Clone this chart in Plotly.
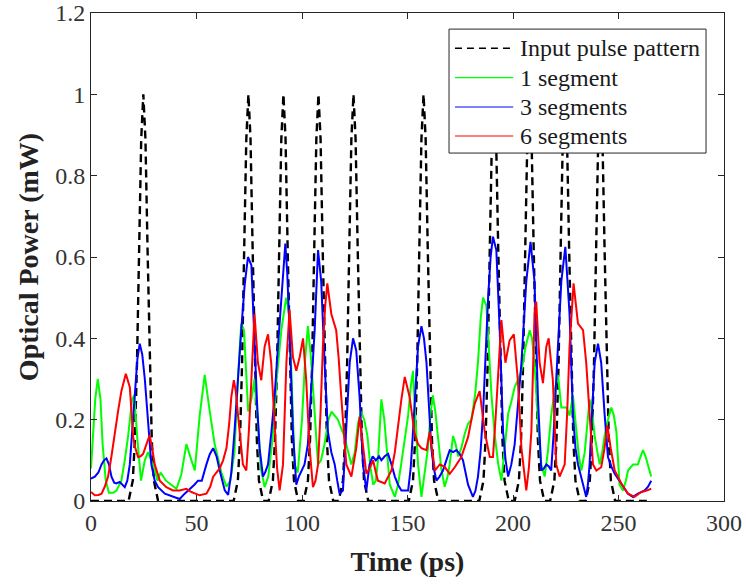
import plotly.graph_objects as go

# ---------------- data ----------------
input_t = [0, 17.8, 19.8, 20.8, 21.8, 22.8, 23.8, 24.8, 25.8, 26.8, 27.8, 28.8, 29.8, 31.8,
           67.6, 69.6, 70.6, 71.6, 72.6, 73.6, 74.6, 75.6, 76.6, 77.6, 78.6, 79.6, 81.6,
           84.2, 86.2, 87.2, 88.2, 89.2, 90.2, 91.2, 92.2, 93.2, 94.2, 95.2, 96.2, 98.2,
           100.8, 102.8, 103.8, 104.8, 105.8, 106.8, 107.8, 108.8, 109.8, 110.8, 111.8, 112.8, 114.8,
           117.4, 119.4, 120.4, 121.4, 122.4, 123.4, 124.4, 125.4, 126.4, 127.4, 128.4, 129.4, 131.4,
           150.6, 152.6, 153.6, 154.6, 155.6, 156.6, 157.6, 158.6, 159.6, 160.6, 161.6, 162.6, 164.6,
           184.0, 186.0, 187.0, 188.0, 189.0, 190.0, 191.0, 192.0, 193.0, 194.0, 195.0, 196.0, 198.0,
           200.8, 202.8, 203.8, 204.8, 205.8, 206.8, 207.8, 208.8, 209.8, 210.8, 211.8, 212.8, 214.8,
           217.6, 219.6, 220.6, 221.6, 222.6, 223.6, 224.6, 225.6, 226.6, 227.6, 228.6, 229.6, 231.6,
           234.4, 236.4, 237.4, 238.4, 239.4, 240.4, 241.4, 242.4, 243.4, 244.4, 245.4, 246.4, 248.4,
           265]
input_p = [0, 0, 0.05, 0.15, 0.34, 0.62, 0.89, 1.0, 0.89, 0.62, 0.34, 0.15, 0.05, 0,
           0, 0.05, 0.15, 0.34, 0.62, 0.89, 1.0, 0.89, 0.62, 0.34, 0.15, 0.05, 0,
           0, 0.05, 0.15, 0.34, 0.62, 0.89, 1.0, 0.89, 0.62, 0.34, 0.15, 0.05, 0,
           0, 0.05, 0.15, 0.34, 0.62, 0.89, 1.0, 0.89, 0.62, 0.34, 0.15, 0.05, 0,
           0, 0.05, 0.15, 0.34, 0.62, 0.89, 1.0, 0.89, 0.62, 0.34, 0.15, 0.05, 0,
           0, 0.05, 0.15, 0.34, 0.62, 0.89, 1.0, 0.89, 0.62, 0.34, 0.15, 0.05, 0,
           0, 0.05, 0.15, 0.34, 0.62, 0.89, 1.0, 0.89, 0.62, 0.34, 0.15, 0.05, 0,
           0, 0.05, 0.15, 0.34, 0.62, 0.89, 1.0, 0.89, 0.62, 0.34, 0.15, 0.05, 0,
           0, 0.05, 0.15, 0.34, 0.62, 0.89, 1.0, 0.89, 0.62, 0.34, 0.15, 0.05, 0,
           0, 0.05, 0.15, 0.34, 0.62, 0.89, 1.0, 0.89, 0.62, 0.34, 0.15, 0.05, 0,
           0]

seg1_t = [0, 1, 2, 3.2, 4.5, 5.5, 7, 8.5, 10.5, 12, 14.4, 16, 17.6, 19.5, 20.5, 22, 23.7, 25.5, 27,
          28.5, 30, 31.5, 33, 35.5, 38, 40.5, 42.8, 45.2, 47.6, 49.2, 51.5, 53.9, 56.3, 58.6, 61.8,
          64.2, 66, 68, 69.6, 71.2, 72.5, 73.5, 74.5, 76, 77.5, 79, 80.5, 82.3, 84, 86, 88, 90.2,
          92.5, 94, 95, 96.5, 98, 100, 101.5, 102.8, 104.3, 106, 107.6, 109, 110.7, 112.5, 114,
          115.5, 117, 120, 122, 123.4, 125, 126.5, 128, 129.5, 131, 132.5, 133.8, 135, 136, 137.6,
          139, 140, 141.6, 144, 145.5, 147, 148.5, 150.3, 151.5, 152.6, 153.8, 155, 156.6, 158,
          159.7, 161, 162, 163.2, 164.5, 166, 167.6, 169, 170, 171.6, 172.8, 174, 175.5, 177.1,
          178.7, 180.3, 182, 183.4, 184.7, 185.8, 187.4, 188.6, 189.8, 191.4, 193, 194.5, 196,
          197.7, 199, 200.8, 202.5, 204, 206, 207.9, 209, 210.2, 211.8, 213.4, 215, 216.5, 218.1,
          219.7, 221.3, 222.9, 225.3, 226.8, 228.4, 230, 231.2, 232.4, 234, 234.7, 236.3, 237.5,
          238.7, 240, 241.1, 242.3, 243.4, 245, 246.6, 247.8, 249, 250.5, 252.1, 253.5, 254.5,
          256.9, 259.2, 260.5, 261.6, 262.8, 264, 265.5]
seg1_p = [0.08, 0.16, 0.25, 0.30, 0.25, 0.14, 0.05, 0.02, 0.02, 0.025, 0.05, 0.10, 0.16, 0.25, 0.26,
          0.15, 0.05, 0.10, 0.12, 0.10, 0.08, 0.05, 0.07, 0.05, 0.04, 0.03, 0.065, 0.14, 0.10,
          0.075, 0.21, 0.31, 0.22, 0.14, 0.07, 0.035, 0.05, 0.12, 0.30, 0.436, 0.42, 0.30, 0.22,
          0.25, 0.30, 0.20, 0.08, 0.034, 0.06, 0.15, 0.30, 0.42, 0.50, 0.46, 0.30, 0.09, 0.07,
          0.20, 0.35, 0.43, 0.35, 0.21, 0.09, 0.10, 0.14, 0.20, 0.22, 0.21, 0.20, 0.16, 0.12,
          0.09, 0.12, 0.19, 0.22, 0.20, 0.16, 0.08, 0.04, 0.05, 0.10, 0.25, 0.20, 0.13, 0.04,
          0.01, 0.04, 0.09, 0.15, 0.21, 0.28, 0.32, 0.20, 0.09, 0.01, 0.06, 0.13, 0.22, 0.26,
          0.22, 0.16, 0.08, 0.035, 0.06, 0.09, 0.16, 0.14, 0.11, 0.13, 0.165, 0.19, 0.20, 0.26,
          0.34, 0.45, 0.50, 0.48, 0.38, 0.26, 0.16, 0.09, 0.05, 0.12, 0.215, 0.24, 0.28, 0.30,
          0.32, 0.38, 0.42, 0.40, 0.34, 0.20, 0.09, 0.06, 0.12, 0.21, 0.27, 0.31, 0.23, 0.23,
          0.21, 0.26, 0.17, 0.11, 0.075, 0.12, 0.16, 0.25, 0.22, 0.16, 0.12, 0.09, 0.12, 0.16,
          0.20, 0.23, 0.21, 0.17, 0.04, 0.026, 0.05, 0.075, 0.09, 0.09, 0.11, 0.125, 0.11, 0.09,
          0.06]

seg3_t = [0, 1.8, 3.5, 5, 6.2, 7.3, 8.5, 9.7, 11, 12, 13.6, 15, 16, 17.2, 18.4, 19.5, 20.7, 22,
          23.1, 24.3, 25.5, 27, 28.6, 30.2, 31.8, 35, 37.5, 39.7, 42, 44.4, 46, 47.6, 49, 50.7,
          52.5, 54.7, 56.3, 57.9, 59.5, 61, 62.3, 63.4, 65, 66.5, 68, 69.6, 71.2, 72.8, 74.4, 76,
          77.5, 78.7, 79.9, 81.5, 82.5, 83.9, 85.5, 87, 88.6, 90.2, 91.2, 92.1, 93, 94.1, 95.7,
          97.3, 98.5, 99.7, 101.2, 102.8, 104.4, 106, 107.6, 109.1, 110.7, 112.3, 113.9, 115.5,
          116.7, 117.8, 119.4, 121, 122.6, 124.2, 125.7, 127.3, 128.9, 130.5, 132, 133.5, 135,
          136.5, 137.6, 139.2, 140.8, 142.4, 144, 145.5, 147.1, 150.3, 151.5, 152.6, 153.8, 155,
          156.6, 157.8, 159, 160.2, 161.3, 162.5, 163.7, 165.2, 166.8, 168.4, 170, 171.6, 173.2,
          174.8, 176.3, 177.5, 178.7, 181, 182.2, 183.4, 184.6, 185.8, 187, 188.2, 189.4, 190.5,
          192.1, 193.7, 195.3, 196.5, 197.7, 199.2, 200.8, 202.4, 204, 206.3, 208.3, 210.2,
          211.8, 213.4, 214.6, 215.8, 217, 218.1, 219.3, 220.5, 221.7, 222.9, 224.8, 226.8,
          228.4, 229.6, 230.8, 233.2, 234.7, 235.5, 236.3, 237.5, 238.7, 240.3, 241.8, 243.4,
          245, 246.6, 248.2, 251.3, 254.5, 256.9, 259.2, 262.4, 264, 265.5]
seg3_p = [0.055, 0.06, 0.07, 0.09, 0.10, 0.105, 0.09, 0.06, 0.045, 0.043, 0.047, 0.04, 0.034, 0.05,
          0.09, 0.17, 0.256, 0.35, 0.387, 0.36, 0.30, 0.19, 0.09, 0.05, 0.034, 0.018, 0.013, 0.01,
          0.005, 0.018, 0.025, 0.034, 0.04, 0.05, 0.05, 0.09, 0.115, 0.13, 0.11, 0.075, 0.045,
          0.026, 0.015, 0.07, 0.17, 0.30, 0.42, 0.53, 0.60, 0.58, 0.38, 0.24, 0.13, 0.06, 0.07,
          0.09, 0.17, 0.256, 0.38, 0.50, 0.58, 0.633, 0.56, 0.42, 0.17, 0.04, 0.06, 0.075, 0.09,
          0.14, 0.27, 0.42, 0.617, 0.54, 0.34, 0.17, 0.12, 0.09, 0.05, 0.018, 0.026, 0.17, 0.34,
          0.40, 0.37, 0.256, 0.09, 0.026, 0.09, 0.11, 0.10, 0.11, 0.10, 0.11, 0.116, 0.09, 0.06,
          0.04, 0.026, 0.026, 0.08, 0.17, 0.27, 0.38, 0.43, 0.40, 0.34, 0.24, 0.13, 0.08, 0.05,
          0.06, 0.075, 0.10, 0.125, 0.12, 0.125, 0.115, 0.10, 0.07, 0.04, 0.01, 0.025, 0.06,
          0.12, 0.215, 0.36, 0.50, 0.60, 0.65, 0.617, 0.42, 0.17, 0.10, 0.06, 0.09, 0.14, 0.24,
          0.34, 0.54, 0.637, 0.54, 0.256, 0.075, 0.08, 0.09, 0.085, 0.075, 0.17, 0.30, 0.43,
          0.54, 0.625, 0.46, 0.215, 0.13, 0.09, 0.04, 0.01, 0.04, 0.09, 0.22, 0.34, 0.387, 0.34,
          0.215, 0.108, 0.085, 0.067, 0.043, 0.018, 0.01, 0.018, 0.026, 0.035, 0.05]

seg6_t = [0, 1.8, 3.5, 5, 6.5, 8.1, 9.7, 11.2, 12.8, 14.4, 16.5, 18.4, 19.2, 20, 21, 22.3, 23.5,
          24.7, 26.3, 27.8, 29, 30.2, 32.6, 35.7, 38.9, 42, 45.2, 47.6, 49.5, 51.5, 54.7, 56.5,
          57.9, 59.5, 61, 62.6, 64.2, 65.5, 66.5, 67.7, 68.6, 69.6, 70.8, 72, 73.6, 74.8, 76,
          77.5, 79.1, 80.7, 82.3, 83.9, 85.4, 87, 88.2, 89.4, 91, 92.6, 94.1, 95.7, 97.3, 98.9,
          100.5, 102, 103.6, 105.2, 106.4, 107.6, 108.8, 109.9, 111, 112, 113.9, 116.2, 117.4,
          118.6, 119.8, 121, 123.4, 125.7, 127.3, 128.9, 130.5, 132, 133.7, 135, 136, 139.2,
          142.4, 144, 145.5, 147.1, 148.7, 151, 153.4, 155, 156.6, 159, 160.5, 161.8, 163, 165.3,
          167.6, 170, 172.4, 175.5, 178.7, 180.3, 181.9, 184.2, 185.4, 186.6, 189, 190.5, 191.7,
          192.9, 194.5, 196.4, 198.4, 200.4, 202.3, 204, 206.3, 207.5, 208.7, 210.2, 211, 212.6,
          214.2, 215.8, 216.9, 218.9, 220.5, 222.1, 224.5, 225.7, 226.8, 228.7, 230.8, 233.2,
          234.7, 236.3, 237.9, 239.5, 241.8, 243.4, 244.7, 246.3, 248.2, 251.3, 254.5, 257.6,
          260.8, 263, 265.5]
seg6_p = [0.022, 0.014, 0.015, 0.018, 0.035, 0.06, 0.11, 0.17, 0.22, 0.27, 0.313, 0.28, 0.22,
          0.157, 0.13, 0.108, 0.11, 0.116, 0.14, 0.162, 0.13, 0.09, 0.05, 0.034, 0.026, 0.026,
          0.03, 0.022, 0.018, 0.014, 0.018, 0.035, 0.06, 0.07, 0.08, 0.10, 0.13, 0.19, 0.256,
          0.297, 0.27, 0.215, 0.15, 0.09, 0.075, 0.17, 0.297, 0.46, 0.34, 0.297, 0.38, 0.41,
          0.34, 0.17, 0.08, 0.026, 0.09, 0.34, 0.47, 0.354, 0.32, 0.354, 0.40, 0.297, 0.13,
          0.034, 0.05, 0.09, 0.22, 0.38, 0.48, 0.535, 0.46, 0.42, 0.35, 0.256, 0.17, 0.09, 0.06,
          0.13, 0.207, 0.13, 0.067, 0.08, 0.10, 0.07, 0.05, 0.043, 0.075, 0.12, 0.19, 0.25,
          0.305, 0.256, 0.165, 0.14, 0.13, 0.125, 0.17, 0.12, 0.075, 0.09, 0.084, 0.067, 0.083,
          0.108, 0.157, 0.20, 0.24, 0.27, 0.22, 0.17, 0.108, 0.108, 0.20, 0.297, 0.445, 0.34,
          0.395, 0.41, 0.297, 0.13, 0.026, 0.08, 0.17, 0.46, 0.49, 0.34, 0.29, 0.38, 0.40,
          0.297, 0.09, 0.06, 0.09, 0.22, 0.38, 0.535, 0.436, 0.42, 0.34, 0.215, 0.09, 0.075,
          0.083, 0.13, 0.186, 0.13, 0.075, 0.043, 0.018, 0.01, 0.022, 0.025, 0.03]

series_names = ["Input pulse pattern", "1 segment", "3 segments", "6 segments"]
x_ticks = [0, 50, 100, 150, 200, 250, 300]
y_ticks = [0, 0.2, 0.4, 0.6, 0.8, 1, 1.2]

# ---------------- styles ----------------
GREEN = "#00ff00"
BLUE = "#0000ff"
RED = "#ff0000"
DASH = "8px,5px"
FONT = "Liberation Serif"
AXC = "#262626"

fig = go.Figure()
fig.add_trace(go.Scatter(x=input_t, y=input_p, mode="lines", name=series_names[0],
                         line=dict(color="black", width=2.4, dash=DASH)))
fig.add_trace(go.Scatter(x=seg1_t, y=seg1_p, mode="lines", name=series_names[1],
                         line=dict(color=GREEN, width=2)))
fig.add_trace(go.Scatter(x=seg3_t, y=seg3_p, mode="lines", name=series_names[2],
                         line=dict(color=BLUE, width=2)))
fig.add_trace(go.Scatter(x=seg6_t, y=seg6_p, mode="lines", name=series_names[3],
                         line=dict(color=RED, width=2)))

# manual legend (box, line samples, labels) in paper coordinates
lx0, lx1, ly0, ly1 = 0.5656, 0.9716, 0.713, 0.967
fig.add_shape(type="rect", xref="paper", yref="paper", x0=lx0, x1=lx1, y0=ly0, y1=ly1,
              line=dict(color=AXC, width=1), fillcolor="white", layer="above")
rows = [0.9277, 0.8674, 0.8074, 0.7480]
styles = [dict(color="black", width=1.5, dash="7px,5px"), dict(color=GREEN, width=1.2),
          dict(color=BLUE, width=1.2), dict(color=RED, width=1.2)]
for name, ry, st in zip(series_names, rows, styles):
    fig.add_shape(type="line", xref="paper", yref="paper", x0=0.575, x1=0.667, y0=ry, y1=ry,
                  line=st, layer="above")
    fig.add_annotation(xref="paper", yref="paper", x=0.6746, y=ry, text=name, showarrow=False,
                       xanchor="left", yanchor="middle", font=dict(family=FONT, size=24, color="#1a1a1a"))

axis_common = dict(showline=True, linecolor=AXC, linewidth=1, mirror="ticks", ticks="inside",
                   ticklen=6, tickcolor=AXC, showgrid=False, zeroline=False,
                   ticklabeloverflow="allow",
                   tickfont=dict(family=FONT, size=24, color="#333333"))
fig.update_xaxes(range=[0, 300], tickvals=x_ticks, **axis_common,
                 title=dict(text="<b>Time (ps)</b>", font=dict(family=FONT, size=28, color="#222222"),
                            standoff=16))
fig.update_yaxes(range=[0, 1.2], tickvals=y_ticks, **axis_common,
                 title=dict(text="<b>Optical Power (mW)</b>", font=dict(family=FONT, size=28, color="#222222"),
                            standoff=8))
fig.update_layout(width=746, height=586, margin=dict(l=91, r=22, t=13, b=85, autoexpand=False),
                  plot_bgcolor="white", paper_bgcolor="white", showlegend=False)
# remove the default 8px page-body margin so the figure fills the window exactly
fig.write_html("out.html", config={"displayModeBar": False},
               post_script="document.body.style.margin='0';document.body.style.overflow='hidden';")
